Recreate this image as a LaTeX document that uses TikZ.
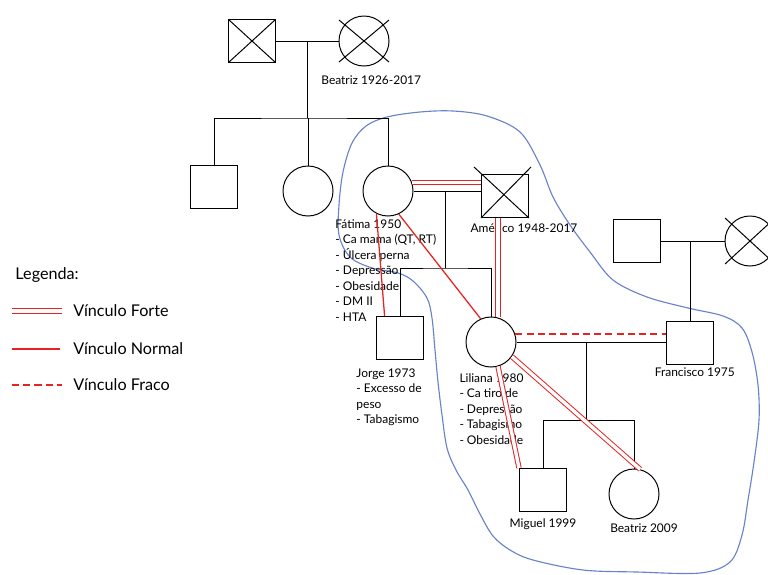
\documentclass[tikz,border=0pt]{standalone}
\usepackage{fontspec}
\setmainfont{Lato}
\usetikzlibrary{positioning,calc}
\definecolor{relred}{RGB}{228,35,35}
\definecolor{zoneblue}{RGB}{105,130,200}
\tikzset{
    male/.style={draw, rectangle, fill=white, minimum width=1.175cm, minimum height=1.075cm, inner sep=0pt},
    female/.style={draw, circle, fill=white, minimum size=1.25cm, inner sep=0pt},
    dead/.style={path picture={\draw (path picture bounding box.south west) -- (path picture bounding box.north east) (path picture bounding box.north west) -- (path picture bounding box.south east);}},
    lbl/.style={inner sep=0pt, font=\fontsize{8.5}{11}\selectfont, align=left},
    lgd/.style={inner sep=0pt, font=\fontsize{11.5}{14}\selectfont, anchor=west},
    strongtie/.style={draw=relred, line width=0.7pt, double=white, double distance=2.4pt},
    normaltie/.style={relred, line width=0.9pt},
    weaktie/.style={relred, line width=0.9pt, dash pattern=on 5pt off 3pt},
    zone/.style={zoneblue, line width=0.8pt}
}

\begin{document}
\begin{tikzpicture}[x=0.025cm, y=-0.025cm, line width=0.7pt, node distance=0.2cm]
\useasboundingbox (0,0) rectangle (768,574);

% family zone
\draw[zone] plot[smooth cycle, tension=0.55] coordinates {(387,117) (420,112) (453,111) (487,116) (520,132) (540,165) (553,197) (570,225) (590,252) (613,280) (647,297) (688,308) (723,316) (742,328) (752,352) (758,385) (759,420) (754,462) (748,500) (742,535) (730,562) (700,573) (637,572) (583,570) (533,560) (510,550) (493,536) (480,514) (468,490) (456,470) (447,448) (442,415) (438,382) (435,350) (432,318) (427,298) (413,281) (398,273) (372,268) (350,257) (339,235) (339,205) (343,172) (352,143) (366,126)};

% grandparents
\node[male, dead] (gf) at (252,41) {};
\node[female] (gm) at (364,41) {};
\draw (gm.center) ++(-25,21) -- ++(50,-42);
\draw (gm.center) ++(-25,-21) -- ++(50,42);
\node[lbl, below=0.22cm of gm, xshift=0.18cm] (gm-l) {Beatriz 1926-2017};
\draw (gf.east) -- (gm.west);
\coordinate (m0) at ($(gf.east)!0.5!(gm.west)$);
\coordinate (s0) at (m0 |- 0,118);

% children
\node[male] (c1) at (214,187) {};
\node[female] (c2) at (308,191) {};
\node[female] (fa) at (388,191) {};
\draw (m0) -- (s0);
\draw (c1.north) |- (s0) -| (fa.north);
\draw (c2.north) -- (c2.north |- s0);

% Fatima and Americo
\node[male] (am) at (505,196) {};
\draw (am.south west) -- ++(50,-51);
\draw (am.south east) -- ++(-55,-51);
\draw (fa.east) -- (fa.east -| am.west);
\coordinate (m1) at ($(fa.east)!0.47!(fa.east -| am.west)$);
\coordinate (s1) at (m1 |- 0,268);
\node[male] (jo) at (400,338) {};
\node[female] (li) at (491,342) {};
\draw (m1) -- (s1);
\draw (jo.north) |- (s1) -| (li.north);

\node[lbl, anchor=north west] (fa-l) at (335,219) {Fátima 1950\\- Ca mama (QT, RT)\\- Úlcera perna\\- Depressão\\- Obesidade\\- DM II\\- HTA};
\node[lbl] (am-l) at (524,228) {Américo 1948-2017};
\node[lbl, anchor=north west] (jo-l) at (356,368) {Jorge 1973\\- Excesso de\\peso\\- Tabagismo};
\node[lbl, anchor=north west] (li-l) at (459,373) {Liliana 1980\\- Ca tiroide\\- Depressão\\- Tabagismo\\- Obesidade};

% Francisco and parents
\node[male] (fp) at (637,241) {};
\node[female] (fm) at (750,241) {};
\draw (fm.center) ++(-25,23) -- ++(50,-46);
\draw (fm.center) ++(-25,-23) -- ++(50,46);
\draw (fp.east) -- (fm.west);
\node[male] (fr) at (690,343) {};
\draw (fr.north) -- (fr.north |- fp.east);
\node[lbl, below=0.05cm of fr, xshift=0.12cm] (fr-l) {Francisco 1975};

% Liliana and Francisco
\draw (li.east) -- (li.east -| fr.west);
\coordinate (m3) at ($(li.east)!0.47!(li.east -| fr.west)$);
\coordinate (s3) at (m3 |- 0,420);
\node[male] (mi) at (543,490) {};
\node[female] (bz) at (634,494) {};
\draw (m3) -- (s3);
\draw (mi.north) |- (s3) -| (bz.north);
\node[lbl, below=0.15cm of mi] (mi-l) {Miguel 1999};
\node[lbl, below=0.1cm of bz, xshift=0.25cm] (bz-l) {Beatriz 2009};

% ties
\draw[strongtie] (fa.19) -- (fa.19 -| am.west);
\draw[strongtie] (li.74) -- (li.74 |- am.south);
\draw[normaltie] (fa.243) -- (jo.125);
\draw[normaltie] (fa.295) -- (li.114);
\draw[weaktie] (li.18) -- (li.18 -| fr.west);
\draw[strongtie] (li.286) -- (mi.north west);
\draw[strongtie] (li.325) -- (bz.76);

% legend
\node[lgd] (leg) at (15,275) {Legenda:};
\node[lgd] (lf) at (73,311) {Vínculo Forte};
\node[lgd] (ln) at (73,349) {Vínculo Normal};
\node[lgd] (lw) at (73,385) {Vínculo Fraco};
\draw[strongtie] ([xshift=-1.525cm]lf.west) -- ([xshift=-0.275cm]lf.west);
\draw[normaltie] ([xshift=-1.525cm]ln.west) -- ([xshift=-0.325cm]ln.west);
\draw[weaktie] ([xshift=-1.525cm]lw.west) -- ([xshift=-0.275cm]lw.west);
\end{tikzpicture}
\end{document}
